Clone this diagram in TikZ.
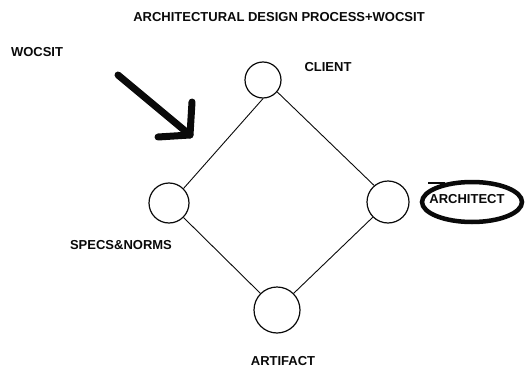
\documentclass[tikz,border=0pt]{standalone}
\usepackage{fontspec}
\setmainfont{Liberation Sans}
\usetikzlibrary{arrows.meta, positioning, shapes.geometric, calc}
\definecolor{inkblack}{RGB}{10,10,10}
\definecolor{paperwhite}{RGB}{255,255,255}

\tikzset{
  lbl/.style={font=\fontsize{13}{15}\selectfont\bfseries, text=inkblack, inner sep=0pt},
  stage/.style={circle, draw=inkblack, line width=1.2pt, inner sep=0pt},
  link/.style={draw=inkblack, line width=0.9pt},
  pointer/.style={draw=inkblack, line width=7pt, line cap=round, line join=round},
  ring/.style={draw=inkblack, line width=4.5pt}
}

\begin{document}
\begin{tikzpicture}[x=1pt, y=-1pt]
\useasboundingbox[fill=paperwhite] (0,0) rectangle (527,369);

% === title ===
\node[lbl] (title) at (279,17) {ARCHITECTURAL DESIGN PROCESS+WOCSIT};
\node[lbl] (wocsit) at (37,52) {WOCSIT};

% === the four stages ===
\node[stage, minimum size=36pt] (client) at (263,80) {};
\node[stage, minimum size=40pt] (specs) at (169,203) {};
\node[stage, minimum size=42pt] (architect) at (388,202) {};
\node[stage, minimum size=46pt] (artifact) at (277,310) {};

\node[lbl] (clientlbl) at (328,67) {CLIENT};
\node[lbl] (specslbl) at (121,245) {SPECS\&NORMS};
\node[lbl] (artifactlbl) at (283,361) {ARTIFACT};
\node[lbl] (architectlbl) at (467,199) {ARCHITECT};

% diamond
\draw[link] (specs.45) -- (client.270);
\draw[link] (client.-40) -- (architect.130);
\draw[link] (specs.-45) -- (artifact.135);
\draw[link] (artifact.45) -- (architect.-135);

% === WOCSIT pointer ===
\coordinate (tail) at (118,75);
\coordinate (tip) at (190,135);
\coordinate (armup) at (192,102);
\coordinate (armleft) at (158,137);
\draw[pointer] (tail) -- (tip);
\draw[pointer] (armup) -- (tip) -- (armleft);

% highlight round the architect
\draw[ring] ($(architectlbl)+(5,3)$) ellipse [x radius=50pt, y radius=20pt];
\draw[inkblack, line width=2pt] ($(architectlbl)+(-39,-16)$) -- ($(architectlbl)+(-22,-16)$);

\end{tikzpicture}
\end{document}
